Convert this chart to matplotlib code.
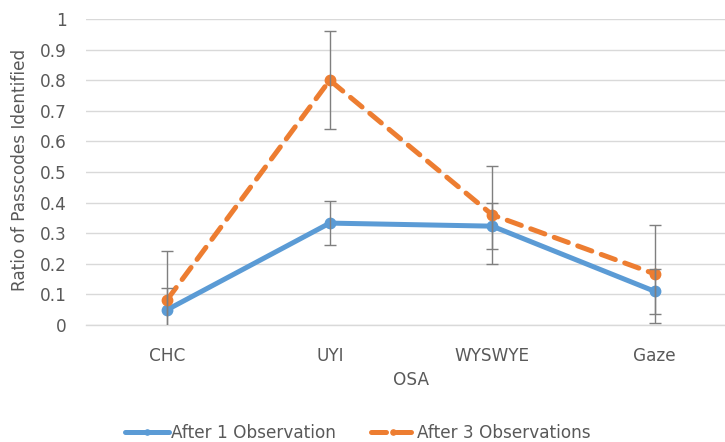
import matplotlib
matplotlib.use("Agg")
import matplotlib.pyplot as plt
import numpy as np

categories = ["CHC", "UYI", "WYSWYE", "Gaze"]
after1 = [0.05, 0.333, 0.323, 0.11]
after1_err = [0.070, 0.073, 0.075, 0.073]
after3 = [0.083, 0.80, 0.36, 0.167]
after3_err = [0.160, 0.160, 0.160, 0.160]
yticks = [0, 0.1, 0.2, 0.3, 0.4, 0.5, 0.6, 0.7, 0.8, 0.9, 1]
ytick_labels = ["0", "0.1", "0.2", "0.3", "0.4", "0.5", "0.6", "0.7", "0.8", "0.9", "1"]

plt.rcParams['font.family'] = ['DejaVu Sans']
text_color = "#595959"
blue = "#5B9BD5"
orange = "#ED7D31"
fs = 12.2

W, H = 725, 442
fig = plt.figure(figsize=(W / 100, H / 100), dpi=100)
left, right, bottom, top = 86, 736, 325, 19
ax = fig.add_axes([left / W, (H - bottom) / H, (right - left) / W, (bottom - top) / H])

x = np.arange(len(categories))
l1, = ax.plot(x, after1, color=blue, lw=3.6, marker="o", markersize=7.5,
              solid_capstyle="round", label="After 1 Observation", zorder=3)
l2, = ax.plot(x, after3, color=orange, lw=3.6, marker="o", markersize=7.5,
              linestyle=(0, (3.0, 2.0)), dash_capstyle="round",
              label="After 3 Observations", zorder=3)
ax.errorbar(x, after1, yerr=after1_err, fmt="none", ecolor="#7F7F7F",
            elinewidth=1, capsize=4.5, capthick=1, zorder=4)
ax.errorbar(x, after3, yerr=after3_err, fmt="none", ecolor="#7F7F7F",
            elinewidth=1, capsize=4.5, capthick=1, zorder=4)

ax.set_xlim(-0.5, len(categories) - 0.5)
ax.set_ylim(0, 1)
ax.set_yticks(yticks)
ax.set_yticklabels(ytick_labels)
ax.set_xticks(x)
ax.set_xticklabels(categories)
ax.tick_params(axis="both", length=0, colors=text_color, labelsize=fs)
ax.tick_params(axis="x", pad=16)
ax.tick_params(axis="y", pad=14)
for s in ["top", "right", "left"]:
    ax.spines[s].set_visible(False)
ax.spines["bottom"].set_color("#D9D9D9")
ax.spines["bottom"].set_linewidth(1)
ax.yaxis.grid(True, color="#D9D9D9", lw=1)
ax.set_axisbelow(True)

fig.text(20 / W, 1 - 170 / H, "Ratio of Passcodes Identified", rotation=90,
         ha="center", va="center", color=text_color, fontsize=fs)
fig.text(411 / W, 1 - 380 / H, "OSA", ha="center", va="center",
         color=text_color, fontsize=fs)

leg = fig.legend(handles=[l1, l2], loc="center", bbox_to_anchor=(358 / W, 1 - 433 / H),
                 ncol=2, frameon=False, fontsize=fs, handlelength=2.6,
                 columnspacing=2.1, handletextpad=0.1, markerscale=0.5)
for t in leg.get_texts():
    t.set_color(text_color)

fig.savefig("out.png", dpi=100)
